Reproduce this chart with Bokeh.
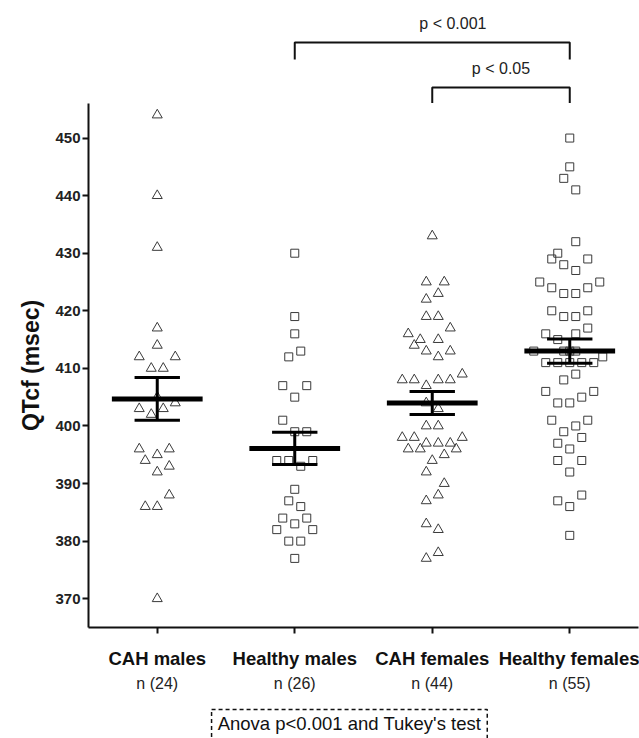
from bokeh.plotting import figure
from bokeh.layouts import column
from bokeh.models import Range1d, FixedTicker, LinearAxis, ColumnDataSource
from bokeh.embed import file_html
from bokeh.resources import INLINE
from bokeh.core.properties import value

# ---------------- data ----------------
groups = ["CAH males", "Healthy males", "CAH females", "Healthy females"]
n_labels = ["n (24)", "n (26)", "n (44)", "n (55)"]
markers = ["triangle", "square", "triangle", "square"]

cah_males = [454, 440, 431, 417, 414, 412, 412, 410, 410, 403, 403, 404,
             402, 396, 396, 395, 394, 393, 392, 388, 386, 386, 370, 405]
cah_males_slot = [0, 0, 0, 0, 0, -3, 3, -1, 1, -3, 1, 3,
                  -1, -3, 2, 0, -2, 2, 0, 2, -2, 0, 0, 0]

healthy_males = [430, 419, 416, 413, 412, 407, 407, 405, 401, 399, 399, 394, 394,
                 394, 393, 389, 387, 386, 384, 384, 383, 382, 382, 380, 380, 377]
healthy_males_slot = [0, 0, 0, 1, -1, -2, 2, 0, -2, 0, 2, -3, -1,
                      3, 1, 0, -1, 1, -2, 2, 0, -3, 3, -1, 1, 0]

cah_females = [433, 425, 425, 423, 422, 419, 419, 417, 416, 415, 415, 414, 413, 413,
               412, 409, 408, 408, 408, 408, 407, 404, 403, 400, 400, 398, 398, 398,
               397, 397, 397, 396, 396, 396, 395, 394, 392, 390, 388, 387, 383, 382,
               378, 377]
cah_females_slot = [0, -1, 2, 1, -1, -1, 1, 3, -4, -2, 1, -3, -1, 3,
                    1, 5, -5, -3, 1, 3, -1, -1, 1, -1, 1, -5, -3, 5,
                    -1, 1, 3, -4, -2, 4, 2, 0, -1, 2, 1, -1, -1, 1,
                    1, -1]

healthy_females = [450, 445, 443, 441, 432, 430, 429, 429, 428, 427, 425, 425, 424, 424,
                   423, 423, 420, 420, 419, 419, 417, 416, 416, 415, 413, 413, 413, 411,
                   411, 411, 411, 411, 412, 409, 408, 406, 406, 405, 404, 404, 401, 401,
                   400, 399, 398, 397, 396, 394, 394, 392, 387, 388, 386, 381, 413]
healthy_females_slot = [0, 0, -1, 1, 1, -2, -3, 3, -1, 1, -5, 5, -3, 3,
                        -1, 1, -3, 3, -1, 1, 3, -4, 1, -2, -6, -1, 1, -4,
                        -2, 0, 2, 4, 5.5, 1, -1, -4, 4, 2, -2, 0, -3, 3,
                        1, -1, 2, -2, 0, -2, 2, 0, -2, 2, 0, 0, 0]

group_values = [cah_males, healthy_males, cah_females, healthy_females]
group_slots = [cah_males_slot, healthy_males_slot, cah_females_slot, healthy_females_slot]

means = [404.7, 396.1, 404.0, 413.0]
sems = [3.7, 2.8, 2.0, 2.1]

y_ticks = [370, 380, 390, 400, 410, 420, 430, 440, 450]

comparisons = [(2, 4, "p < 0.001"), (3, 4, "p < 0.05")]
footnote = "Anova p<0.001 and Tukey's test"

# ---------------- layout constants ----------------
FONT = "Liberation Sans"
W = 639
LEFT = 88
RIGHT = 1
SLOT = 6.0 / 137.5        # horizontal step of the dot layout, in category units
x_range = Range1d(0.5, 4.5)

# ---------------- top panel: significance brackets ----------------
TOP_H = 103
top = figure(width=W, height=TOP_H, x_range=x_range, y_range=Range1d(0, TOP_H),
             output_backend="svg", toolbar_location=None,
             min_border_left=LEFT, min_border_right=RIGHT,
             min_border_top=0, min_border_bottom=0)
top.axis.visible = False
top.grid.visible = False
top.outline_line_color = None

bracket_levels = [61, 16]
text_shift = [0.15, 0.0]
leg = 17
xs, ys, tx, ty, tt = [], [], [], [], []
for (a, b, label), lev, sh in zip(comparisons, bracket_levels, text_shift):
    xs.append([a, a, b, b])
    ys.append([max(lev - leg, 0), lev, lev, max(lev - leg, 0)])
    tx.append((a + b) / 2 + sh)
    ty.append(lev + 19.5)
    tt.append(label)
top.multi_line(xs, ys, line_color="#111111", line_width=2)
top.text(x=tx, y=ty, text=tt, text_align="center", text_baseline="middle",
         text_font=value(FONT), text_font_size="16px", text_color="#222222")

# ---------------- main panel ----------------
FRAME_H = 524
BOTTOM_B = 70
main = figure(width=W, height=FRAME_H + BOTTOM_B, x_range=x_range,
              y_range=Range1d(365, 456),
              output_backend="svg", toolbar_location=None,
              min_border_left=LEFT, min_border_right=RIGHT,
              min_border_top=0, min_border_bottom=BOTTOM_B)
main.grid.visible = False
main.outline_line_color = None
main.background_fill_color = "white"
main.border_fill_color = "white"

for i, (vals, slots, mk) in enumerate(zip(group_values, group_slots, markers)):
    cx = i + 1
    src = ColumnDataSource(dict(x=[cx + s * SLOT for s in slots], y=vals))
    main.scatter("x", "y", source=src, marker=mk,
                 size=10 if mk == "triangle" else 8,
                 fill_color=None, line_color="#3a3a3a", line_width=1)

cx = [i + 1 for i in range(len(groups))]
lo = [m - s for m, s in zip(means, sems)]
hi = [m + s for m, s in zip(means, sems)]
main.segment(x0=[c - 0.33 for c in cx], y0=means, x1=[c + 0.33 for c in cx], y1=means,
             line_color="black", line_width=5, line_cap="butt")
main.segment(x0=cx, y0=lo, x1=cx, y1=hi, line_color="black", line_width=3, line_cap="butt")
main.segment(x0=[c - 0.165 for c in cx], y0=hi, x1=[c + 0.165 for c in cx], y1=hi,
             line_color="black", line_width=3, line_cap="butt")
main.segment(x0=[c - 0.165 for c in cx], y0=lo, x1=[c + 0.165 for c in cx], y1=lo,
             line_color="black", line_width=3, line_cap="butt")

# y axis
ya = main.yaxis[0]
ya.ticker = FixedTicker(ticks=y_ticks)
ya.axis_label = "QTcf (msec)"
ya.axis_label_text_font = FONT
ya.axis_label_text_font_style = "bold"
ya.axis_label_text_font_size = "23px"
ya.axis_label_text_color = "#111111"
ya.axis_label_standoff = 8
ya.major_label_text_font = FONT
ya.major_label_text_font_style = "bold"
ya.major_label_text_font_size = "15px"
ya.major_label_text_color = "#222222"
ya.major_label_standoff = 2
ya.major_tick_in = 0
ya.major_tick_out = 6
ya.minor_tick_line_color = None
ya.axis_line_width = 2
ya.major_tick_line_width = 2
ya.axis_line_color = "#111111"
ya.major_tick_line_color = "#111111"

# x axis (group names)
xa = main.xaxis[0]
xa.ticker = FixedTicker(ticks=cx)
xa.major_label_overrides = {c: g for c, g in zip(cx, groups)}
xa.major_label_text_font = FONT
xa.major_label_text_font_style = "bold"
xa.major_label_text_font_size = "18.5px"
xa.major_label_text_color = "#111111"
xa.major_label_standoff = 14
xa.major_tick_in = 0
xa.major_tick_out = 6
xa.minor_tick_line_color = None
xa.axis_line_width = 2
xa.major_tick_line_width = 2
xa.axis_line_color = "#111111"
xa.major_tick_line_color = "#111111"

# second x axis (group sizes)
xn = LinearAxis(ticker=FixedTicker(ticks=cx),
                major_label_overrides={c: n for c, n in zip(cx, n_labels)},
                axis_line_color=None, major_tick_line_color=None,
                minor_tick_line_color=None, major_tick_in=0, major_tick_out=0,
                major_label_standoff=3,
                major_label_text_font=FONT, major_label_text_font_size="16px",
                major_label_text_color="#222222")
main.add_layout(xn, "below")

# ---------------- bottom panel: footnote box ----------------
BOT_H = 41
box_left, box_right = 1.395, 3.40
bot = figure(width=W, height=BOT_H, x_range=x_range, y_range=Range1d(0, BOT_H),
             output_backend="svg", toolbar_location=None,
             min_border_left=LEFT, min_border_right=RIGHT,
             min_border_top=0, min_border_bottom=0)
bot.axis.visible = False
bot.grid.visible = False
bot.outline_line_color = None
bot.quad(left=[box_left], right=[box_right], top=[29], bottom=[-10], fill_color=None,
         line_color="#111111", line_width=1.5, line_dash="4 3")
bot.text(x=[(box_left + box_right) / 2], y=[15], text=[footnote], text_align="center",
         text_baseline="middle", text_font=value(FONT), text_font_size="18.5px",
         text_color="#111111")

layout = column(top, main, bot)
open("out.html", "w").write(file_html(layout, INLINE))
